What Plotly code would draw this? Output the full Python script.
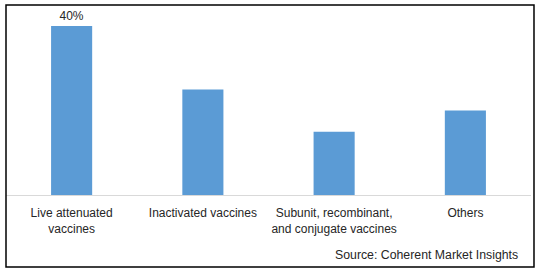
import plotly.graph_objects as go

categories = ["Live attenuated<br>vaccines", "Inactivated vaccines",
              "Subunit, recombinant,<br>and conjugate vaccines", "Others"]
shares = [40, 25, 15, 20]
bar_labels = ["40%", "", "", ""]
source_text = "Source: Coherent Market Insights"

FONT = "Liberation Sans, Arial, sans-serif"

fig = go.Figure(go.Bar(
    x=categories, y=shares, text=bar_labels, textposition="outside",
    marker=dict(color="#5B9BD5", line=dict(width=0)),
    width=0.313, cliponaxis=False,
    textfont=dict(family=FONT, size=12, color="#262626"),
))

fig.update_layout(
    width=539, height=272,
    margin=dict(l=6, r=8, t=10, b=77),
    paper_bgcolor="white", plot_bgcolor="white",
    showlegend=False,
    font=dict(family=FONT, size=12, color="#262626"),
    xaxis=dict(showline=True, linecolor="#d9d9d9", linewidth=1, ticks="",
               showgrid=False, tickfont=dict(size=12, color="#262626"),
               ticklabelstandoff=7),
    yaxis=dict(range=[0, 43.79], visible=False, showgrid=False),
    bargap=0.687,
    shapes=[dict(type="rect", xref="paper", yref="paper",
                 x0=0, x1=1.0057, y0=-0.389, y1=1.027,
                 line=dict(color="black", width=1.5), fillcolor="rgba(0,0,0,0)")],
    annotations=[dict(text=source_text, xref="paper", yref="paper",
                      x=0.979, y=-0.324, xanchor="right", yanchor="middle",
                      showarrow=False, font=dict(size=12.3, color="#262626"))],
)

fig.write_html("out.html")
